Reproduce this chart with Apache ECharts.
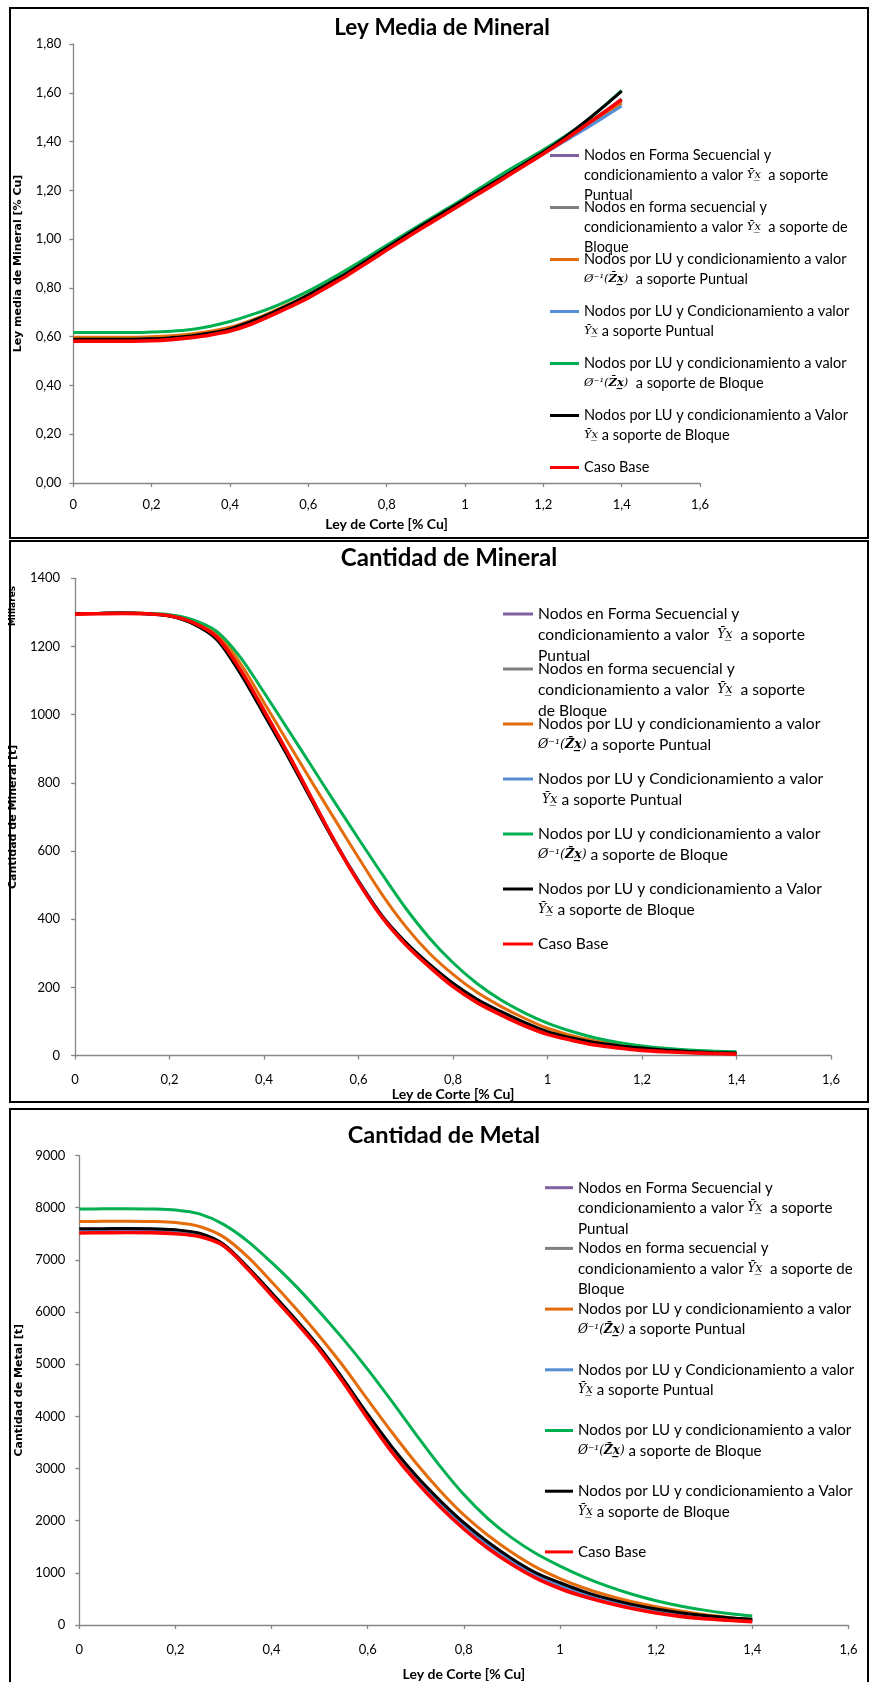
<!DOCTYPE html>
<html>
<head>
<meta charset="utf-8">
<script src="https://cdn.jsdelivr.net/npm/echarts@6/dist/echarts.min.js"></script>
<style>
  html, body { margin: 0; padding: 0; background: #ffffff; }
  #main { width: 870px; height: 1682px; }
</style>
</head>
<body>
<div id="main"></div>
<script>
// Cut-off grades (% Cu) shared by the three panels
const cutoff = [0, 0.05, 0.1, 0.15, 0.2, 0.25, 0.3, 0.35, 0.4, 0.45, 0.5, 0.55, 0.6, 0.65, 0.7,
                0.75, 0.8, 0.85, 0.9, 0.95, 1.0, 1.05, 1.1, 1.15, 1.2, 1.25, 1.3, 1.35, 1.4];

// Tick labels
const corteTicks = ['0', '0,2', '0,4', '0,6', '0,8', '1', '1,2', '1,4', '1,6'];
const leyTicks = ['0,00', '0,20', '0,40', '0,60', '0,80', '1,00', '1,20', '1,40', '1,60', '1,80'];
const mineralTicks = ['0', '200', '400', '600', '800', '1000', '1200', '1400'];
const metalTicks = ['0', '1000', '2000', '3000', '4000', '5000', '6000', '7000', '8000', '9000'];

// Series names (one per simulation scenario)
const seriesNames = [
  'Nodos en Forma Secuencial y condicionamiento a valor Ȳx̲ a soporte Puntual',
  'Nodos en forma secuencial y condicionamiento a valor Ȳx̲ a soporte de Bloque',
  'Nodos por LU y condicionamiento a valor Ø⁻¹(Z̄x̲) a soporte Puntual',
  'Nodos por LU y Condicionamiento a valor Ȳx̲ a soporte Puntual',
  'Nodos por LU y condicionamiento a valor Ø⁻¹(Z̄x̲) a soporte de Bloque',
  'Nodos por LU y condicionamiento a Valor Ȳx̲ a soporte de Bloque',
  'Caso Base'
];
const seriesColors = ['#7F619F', '#7F7F7F', '#E46C0A', '#558ED5', '#00B050', '#000000', '#FF0000'];

// Ley media de mineral [% Cu]
const leySecPuntual = [0.588, 0.588, 0.588, 0.588, 0.590, 0.595, 0.602, 0.614, 0.631, 0.659, 0.691, 0.729, 0.769, 0.813, 0.859, 0.909, 0.960, 1.010, 1.060, 1.109, 1.157, 1.206, 1.254, 1.304, 1.354, 1.406, 1.460, 1.516, 1.575];
const leySecBloque  = [0.589, 0.589, 0.589, 0.589, 0.591, 0.596, 0.603, 0.614, 0.631, 0.659, 0.691, 0.729, 0.769, 0.813, 0.859, 0.910, 0.961, 1.011, 1.060, 1.109, 1.157, 1.206, 1.254, 1.303, 1.353, 1.405, 1.458, 1.511, 1.565];
const leyPhiPuntual = [0.598, 0.598, 0.598, 0.598, 0.600, 0.604, 0.611, 0.622, 0.639, 0.665, 0.697, 0.733, 0.772, 0.816, 0.861, 0.911, 0.962, 1.012, 1.061, 1.110, 1.158, 1.207, 1.256, 1.305, 1.353, 1.404, 1.455, 1.506, 1.557];
const leyYPuntual   = [0.588, 0.588, 0.588, 0.588, 0.590, 0.595, 0.602, 0.613, 0.630, 0.658, 0.690, 0.728, 0.767, 0.811, 0.857, 0.907, 0.958, 1.008, 1.058, 1.107, 1.155, 1.204, 1.252, 1.300, 1.349, 1.397, 1.445, 1.495, 1.546];
const leyPhiBloque  = [0.617, 0.617, 0.617, 0.617, 0.619, 0.622, 0.629, 0.643, 0.662, 0.687, 0.715, 0.749, 0.787, 0.830, 0.876, 0.925, 0.975, 1.024, 1.073, 1.121, 1.170, 1.221, 1.272, 1.319, 1.366, 1.417, 1.470, 1.538, 1.610];
const leyYBloque    = [0.589, 0.589, 0.589, 0.589, 0.591, 0.596, 0.603, 0.615, 0.632, 0.660, 0.692, 0.730, 0.772, 0.816, 0.862, 0.913, 0.965, 1.016, 1.066, 1.114, 1.162, 1.210, 1.258, 1.307, 1.357, 1.412, 1.473, 1.538, 1.607];
const leyBase       = [0.581, 0.581, 0.581, 0.581, 0.583, 0.588, 0.596, 0.607, 0.623, 0.649, 0.683, 0.720, 0.759, 0.805, 0.852, 0.903, 0.955, 1.005, 1.055, 1.103, 1.152, 1.201, 1.250, 1.300, 1.350, 1.402, 1.458, 1.514, 1.572];

// Cantidad de mineral [t] (millares)
const minSecPuntual = [1296, 1297, 1298, 1296, 1290, 1268, 1225, 1127, 1006, 884, 755, 628, 513, 410, 331, 267, 210, 164, 127, 95, 67, 49, 35, 26, 19, 14, 10, 7, 5];
const minSecBloque  = [1296, 1297, 1298, 1296, 1290, 1268, 1224, 1126, 1005, 883, 754, 627, 512, 409, 330, 266, 209, 163, 127, 94, 67, 48, 35, 25, 19, 13, 10, 7, 5];
const minPhiPuntual = [1296, 1297, 1298, 1297, 1292, 1274, 1236, 1150, 1035, 920, 805, 692, 580, 472, 378, 300, 238, 186, 145, 110, 80, 59, 43, 31, 22, 16, 11, 8, 6];
const minYPuntual   = [1296, 1297, 1298, 1296, 1290, 1268, 1224, 1126, 1005, 883, 754, 626, 511, 408, 329, 265, 208, 162, 126, 94, 66, 48, 34, 25, 18, 13, 9, 7, 5];
const minPhiBloque  = [1296, 1297, 1298, 1297, 1293, 1278, 1244, 1168, 1065, 958, 850, 742, 636, 532, 432, 345, 272, 212, 164, 126, 95, 71, 52, 38, 28, 21, 16, 13, 11];
const minYBloque    = [1296, 1297, 1298, 1296, 1289, 1266, 1220, 1120, 1000, 878, 750, 624, 510, 409, 332, 268, 212, 166, 130, 98, 70, 52, 38, 29, 22, 16, 12, 9, 7];
const minBase       = [1295, 1296, 1297, 1296, 1290, 1270, 1228, 1132, 1012, 888, 757, 627, 508, 405, 325, 260, 202, 156, 120, 88, 62, 45, 31, 22, 15, 11, 8, 6, 4];

// Cantidad de metal [t]
const metSecPuntual = [7585, 7588, 7590, 7587, 7565, 7500, 7290, 6860, 6360, 5845, 5305, 4680, 4015, 3390, 2840, 2360, 1925, 1565, 1245, 975, 785, 620, 485, 375, 285, 215, 160, 122, 95];
const metSecBloque  = [7570, 7573, 7575, 7572, 7550, 7485, 7275, 6840, 6345, 5825, 5275, 4645, 3970, 3340, 2790, 2310, 1880, 1520, 1200, 930, 740, 580, 450, 345, 260, 190, 140, 105, 82];
const metPhiPuntual = [7735, 7738, 7740, 7735, 7715, 7640, 7440, 7060, 6580, 6070, 5530, 4950, 4320, 3700, 3110, 2580, 2110, 1720, 1390, 1110, 890, 710, 565, 445, 350, 270, 200, 145, 100];
const metYPuntual   = [7575, 7578, 7580, 7577, 7555, 7490, 7280, 6850, 6350, 5835, 5290, 4660, 3990, 3360, 2810, 2330, 1900, 1540, 1220, 950, 760, 600, 470, 360, 270, 200, 150, 115, 88];
const metPhiBloque  = [7975, 7978, 7980, 7975, 7955, 7880, 7680, 7360, 6950, 6500, 6000, 5470, 4900, 4290, 3660, 3050, 2500, 2040, 1670, 1370, 1130, 920, 740, 590, 465, 365, 285, 222, 172];
const metYBloque    = [7595, 7598, 7600, 7597, 7575, 7510, 7300, 6860, 6370, 5860, 5320, 4700, 4040, 3420, 2870, 2390, 1960, 1590, 1270, 1000, 810, 640, 505, 395, 305, 235, 180, 140, 110];
const metBase       = [7515, 7520, 7525, 7522, 7500, 7445, 7270, 6830, 6320, 5810, 5270, 4640, 3960, 3320, 2760, 2270, 1840, 1470, 1160, 900, 700, 545, 420, 315, 230, 165, 120, 90, 65];

// Legend wording, line by line, for each panel
const YX = '{m|Ȳx̲}';
const PHI = '{m|Ø⁻¹(}{mb|Z̄x̲}{m|)}';
const legendLey = [
  ['Nodos en Forma Secuencial y', 'condicionamiento a valor ' + YX + '  a soporte', 'Puntual'],
  ['Nodos en forma secuencial y', 'condicionamiento a valor ' + YX + '  a soporte de', 'Bloque'],
  ['Nodos por LU y condicionamiento a valor', PHI + '  a soporte Puntual'],
  ['Nodos por LU y Condicionamiento a valor', YX + ' a soporte Puntual'],
  ['Nodos por LU y condicionamiento a valor', PHI + '  a soporte de Bloque'],
  ['Nodos por LU y condicionamiento a Valor', YX + ' a soporte de Bloque'],
  ['Caso Base']
];
const legendMineral = [
  ['Nodos en Forma Secuencial y', 'condicionamiento a valor  ' + YX + '  a soporte', 'Puntual'],
  ['Nodos en forma secuencial y', 'condicionamiento a valor  ' + YX + '  a soporte', 'de Bloque'],
  ['Nodos por LU y condicionamiento a valor', PHI + ' a soporte Puntual'],
  ['Nodos por LU y Condicionamiento a valor', ' ' + YX + ' a soporte Puntual'],
  ['Nodos por LU y condicionamiento a valor', PHI + ' a soporte de Bloque'],
  ['Nodos por LU y condicionamiento a Valor', YX + ' a soporte de Bloque'],
  ['Caso Base']
];
const legendMetal = [
  ['Nodos en Forma Secuencial y', 'condicionamiento a valor ' + YX + '  a soporte', 'Puntual'],
  ['Nodos en forma secuencial y', 'condicionamiento a valor ' + YX + '  a soporte de', 'Bloque'],
  ['Nodos por LU y condicionamiento a valor', PHI + ' a soporte Puntual'],
  ['Nodos por LU y Condicionamiento a valor', YX + ' a soporte Puntual'],
  ['Nodos por LU y condicionamiento a valor', PHI + ' a soporte de Bloque'],
  ['Nodos por LU y condicionamiento a Valor', YX + ' a soporte de Bloque'],
  ['Caso Base']
];

const FONT = 'Lato, "Open Sans", sans-serif';

function buildSeries(idx, arrays) {
  return arrays.map(function (arr, i) {
    return {
      name: seriesNames[i],
      type: 'line',
      xAxisIndex: idx,
      yAxisIndex: idx,
      data: cutoff.map(function (x, j) { return [x, arr[j]]; }),
      smooth: 0.3,
      symbol: 'none',
      color: seriesColors[i],
      lineStyle: { width: i === 6 ? 3.6 : 3, color: seriesColors[i] },
      z: 2 + i
    };
  });
}

// Legend whose marker sits on the first text line of every entry
function buildLegend(lines, left, top, itemWidth, lh, pitch, fontSize) {
  return {
    orient: 'vertical',
    left: left,
    top: top - 2.5 * lh,
    padding: 0,
    icon: 'rect',
    itemWidth: itemWidth,
    itemHeight: 3,
    itemGap: pitch - 5 * lh,
    selectedMode: false,
    itemStyle: { borderWidth: 0 },
    data: seriesNames.map(function (n, i) {
      return { name: n, textStyle: { padding: [2 * lh, 0, (3 - lines[i].length) * lh, 0] } };
    }),
    formatter: function (name) { return lines[seriesNames.indexOf(name)].join('\n'); },
    textStyle: {
      fontFamily: FONT, fontSize: fontSize, color: '#000', lineHeight: lh,
      rich: {
        m: { fontFamily: '"DejaVu Serif", serif', fontStyle: 'italic', fontSize: fontSize - 3, lineHeight: lh, color: '#000' },
        mb: { fontFamily: '"DejaVu Serif", serif', fontStyle: 'italic', fontWeight: 'bold', fontSize: fontSize - 3, lineHeight: lh, color: '#000' }
      }
    }
  };
}

function xAxisOf(idx, labelMargin, nameGap) {
  return {
    type: 'value', gridIndex: idx, min: 0, max: 1.6, interval: 0.2,
    axisLine: { show: true, onZero: false, lineStyle: { color: '#868686', width: 1.3 } },
    axisTick: { show: true, length: 4, lineStyle: { color: '#868686', width: 1.3 } },
    splitLine: { show: false },
    axisLabel: {
      color: '#000', fontFamily: FONT, fontSize: 13, margin: labelMargin,
      formatter: function (v) { return corteTicks[Math.round(v / 0.2)]; }
    },
    name: 'Ley de Corte [% Cu]', nameLocation: 'middle', nameGap: nameGap,
    nameTextStyle: { color: '#000', fontFamily: FONT, fontWeight: 'bold', fontSize: 14 }
  };
}

function yAxisOf(idx, max, interval, ticks, name, nameGap, labelMargin) {
  return {
    type: 'value', gridIndex: idx, min: 0, max: max, interval: interval,
    axisLine: { show: true, lineStyle: { color: '#868686', width: 1.3 } },
    axisTick: { show: true, length: 4, lineStyle: { color: '#868686', width: 1.3 } },
    splitLine: { show: false },
    axisLabel: {
      color: '#000', fontFamily: FONT, fontSize: 13, margin: labelMargin,
      formatter: function (v) { return ticks[Math.round(v / interval)]; }
    },
    name: name, nameLocation: 'middle', nameGap: nameGap,
    nameTextStyle: { color: '#000', fontFamily: '"DejaVu Sans", sans-serif', fontWeight: 'bold', fontSize: 11 }
  };
}

function titleStyle(size) {
  return { color: '#000', fontFamily: FONT, fontWeight: 'bold', fontSize: size };
}

const option = {
  animation: false,
  backgroundColor: '#ffffff',
  title: [
    { text: 'Ley Media de Mineral', left: 442, top: 16, textAlign: 'center', padding: 0, textStyle: titleStyle(22.5) },
    { text: 'Cantidad de Mineral', left: 449, top: 546, textAlign: 'center', padding: 0, textStyle: titleStyle(24) },
    { text: 'Cantidad de Metal', left: 444, top: 1123, textAlign: 'center', padding: 0, textStyle: titleStyle(23.5) }
  ],
  grid: [
    { left: 73.3, top: 44, width: 626.7, height: 439 },
    { left: 75, top: 578.3, width: 756, height: 477.2 },
    { left: 79.3, top: 1155.5, width: 769.1, height: 471.2 }
  ],
  xAxis: [xAxisOf(0, 15, 34), xAxisOf(1, 18, 31), xAxisOf(2, 18, 42)],
  yAxis: [
    yAxisOf(0, 1.8, 0.2, leyTicks, 'Ley media de Mineral [% Cu]', 50, 12),
    yAxisOf(1, 1400, 200, mineralTicks, 'Cantidad de Mineral [t]', 52, 15),
    yAxisOf(2, 9000, 1000, metalTicks, 'Cantidad de Metal [t]', 52, 14)
  ],
  legend: [
    buildLegend(legendLey, 550, 155.5, 29, 19.7, 52, 14.5),
    buildLegend(legendMineral, 503, 614, 30, 20.8, 55, 15.6),
    buildLegend(legendMetal, 545, 1187.7, 28, 20.5, 60.7, 15.1)
  ],
  graphic: [
    { type: 'rect', shape: { x: 10, y: 8, width: 858, height: 530 }, style: { fill: 'none', stroke: '#000', lineWidth: 2 }, z: 100 },
    { type: 'rect', shape: { x: 10, y: 541, width: 858, height: 561 }, style: { fill: 'none', stroke: '#000', lineWidth: 2 }, z: 100 },
    { type: 'rect', shape: { x: 10, y: 1109, width: 858, height: 600 }, style: { fill: 'none', stroke: '#000', lineWidth: 2 }, z: 100 },
    { type: 'text', x: 13, y: 606, rotation: Math.PI / 2, style: { text: 'Millares', font: 'bold 9px "DejaVu Sans", sans-serif', fill: '#000', align: 'center', verticalAlign: 'middle' }, z: 99 }
  ],
  series: [].concat(
    buildSeries(0, [leySecPuntual, leySecBloque, leyPhiPuntual, leyYPuntual, leyPhiBloque, leyYBloque, leyBase]),
    buildSeries(1, [minSecPuntual, minSecBloque, minPhiPuntual, minYPuntual, minPhiBloque, minYBloque, minBase]),
    buildSeries(2, [metSecPuntual, metSecBloque, metPhiPuntual, metYPuntual, metPhiBloque, metYBloque, metBase])
  )
};

const chart = echarts.init(document.getElementById('main'));
chart.setOption(option);
</script>
</body>
</html>
